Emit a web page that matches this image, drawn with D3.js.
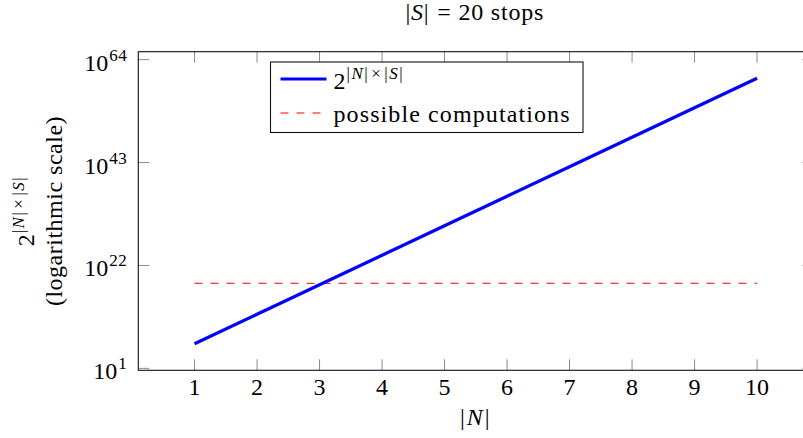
<!DOCTYPE html>
<html>
<head>
<meta charset="utf-8">
<script src="https://cdn.jsdelivr.net/npm/d3@7"></script>
<style>
  body { margin: 0; background: #fff; }
  svg text { fill: #000; }
</style>
</head>
<body>
<script>
// data
var nValues = [1, 2, 3, 4, 5, 6, 7, 8, 9, 10];
// 2^(|N| x 20)
var combos = [1.05e6, 1.10e12, 1.15e18, 1.21e24, 1.27e30, 1.33e36, 1.39e42, 1.46e48, 1.53e54, 1.61e60];
var possibleN = [1, 10];
var possible = [2.3e18, 2.3e18];
var yTickExp = [1, 22, 43, 64];

var W = 803, H = 438;
var margin = {left: 138.3, top: 51.7, right: -10.3, bottom: 67.7},
    width = W - margin.left - margin.right,
    height = H - margin.top - margin.bottom;

var FS = 24, SUP = 17;

var svg = d3.select("body").append("svg")
    .attr("width", W)
    .attr("height", H)
    .style("font-family", "'Liberation Serif', 'DejaVu Serif', serif");

var g = svg.append("g")
    .attr("transform", "translate(" + margin.left + "," + margin.top + ")");

// pgfplots style 10% enlargement of limits
var xr = d3.extent(nValues), xe = (xr[1] - xr[0]) * 0.1;
var x = d3.scaleLinear()
    .domain([xr[0] - xe, xr[1] + xe])
    .range([0, width]);

var ly = d3.extent(combos.concat(possible)).map(Math.log10),
    ye = (ly[1] - ly[0]) * 0.1;
var y = d3.scaleLog()
    .domain([Math.pow(10, ly[0] - ye), Math.pow(10, ly[1] + ye)])
    .range([height, 0]);

var tickLen = 11;

// ticks (inner, on all four sides)
var tickG = g.append("g").attr("stroke", "#8a8a8a").attr("stroke-width", 1);
nValues.forEach(function(d) {
    tickG.append("line").attr("x1", x(d)).attr("x2", x(d)).attr("y1", height).attr("y2", height - tickLen);
    tickG.append("line").attr("x1", x(d)).attr("x2", x(d)).attr("y1", 0).attr("y2", tickLen);
});
yTickExp.forEach(function(e) {
    var yy = y(Math.pow(10, e));
    tickG.append("line").attr("x1", 0).attr("x2", tickLen).attr("y1", yy).attr("y2", yy);
    tickG.append("line").attr("x1", width).attr("x2", width - tickLen).attr("y1", yy).attr("y2", yy);
});

// frame
g.append("rect")
    .attr("width", width)
    .attr("height", height)
    .attr("fill", "none")
    .attr("stroke", "#111")
    .attr("stroke-width", 1.1);

// x tick labels
g.selectAll(".xl")
    .data(nValues)
    .enter().append("text")
    .attr("class", "xl")
    .attr("x", function(d) { return x(d); })
    .attr("y", height + 25)
    .attr("text-anchor", "middle")
    .attr("font-size", FS)
    .text(function(d) { return d; });

// y tick labels: 10^e
var yl = g.selectAll(".yl")
    .data(yTickExp)
    .enter().append("text")
    .attr("class", "yl")
    .attr("x", -11)
    .attr("y", function(e) { return y(Math.pow(10, e)) + 11; })
    .attr("text-anchor", "end")
    .attr("font-size", FS);
yl.append("tspan").text("10");
yl.append("tspan").attr("dy", -10).attr("dx", 1).attr("font-size", SUP)
    .attr("letter-spacing", 0.5)
    .text(function(e) { return e; });

// lines
var line = d3.line()
    .x(function(d) { return x(d[0]); })
    .y(function(d) { return y(d[1]); });

g.append("path")
    .datum(possibleN.map(function(n, i) { return [n, possible[i]]; }))
    .attr("d", line)
    .attr("fill", "none")
    .attr("stroke", "#ff0000")
    .attr("stroke-width", 1)
    .attr("stroke-dasharray", "8,8");

g.append("path")
    .datum(nValues.map(function(n, i) { return [n, combos[i]]; }))
    .attr("d", line)
    .attr("fill", "none")
    .attr("stroke", "#0000ff")
    .attr("stroke-width", 3.2);

// helper for math-like text: [string, italic, dx]
function mathText(sel, parts) {
    parts.forEach(function(p) {
        var t = sel.append("tspan").text(p[0]);
        if (p[1]) t.attr("font-style", "italic");
        if (p[2]) t.attr("dx", p[2]);
    });
}
// 2^{|N|x|S|}
function powerLabel(sel) {
    sel.append("tspan").text("2");
    var s = sel.append("tspan").attr("dy", -10).attr("dx", 1)
        .attr("font-size", SUP).attr("letter-spacing", 1.5);
    mathText(s, [["|"], ["N", 1], ["|"], ["×", 0, 2], ["|", 0, 2], ["S", 1], ["|"]]);
}

// legend
var leg = svg.append("g").attr("transform", "translate(270.5,62)");
leg.append("rect")
    .attr("width", 312.5)
    .attr("height", 70.5)
    .attr("fill", "#fff")
    .attr("stroke", "#111")
    .attr("stroke-width", 1.1);
leg.append("line")
    .attr("x1", 10).attr("x2", 56).attr("y1", 17).attr("y2", 17)
    .attr("stroke", "#0000ff").attr("stroke-width", 3.2);
leg.append("line")
    .attr("x1", 10).attr("x2", 56).attr("y1", 51).attr("y2", 51)
    .attr("stroke", "#ff0000").attr("stroke-width", 1)
    .attr("stroke-dasharray", "8,8");
var l1 = leg.append("text").attr("x", 63).attr("y", 27).attr("font-size", FS);
powerLabel(l1);
leg.append("text").attr("x", 63).attr("y", 59.5).attr("font-size", FS)
    .attr("letter-spacing", 1.1)
    .text("possible computations");

// title
var title = svg.append("text")
    .attr("x", margin.left + width / 2 - 1)
    .attr("y", 20)
    .attr("text-anchor", "middle")
    .attr("font-size", FS)
    .attr("letter-spacing", 0.8)
    .attr("xml:space", "preserve")
    .style("white-space", "pre");
mathText(title, [["|"], ["S", 1], ["| "], ["= ", 0, 1], ["20 stops"]]);

// x axis label
var xlab = svg.append("text")
    .attr("x", margin.left + width / 2)
    .attr("y", 425)
    .attr("text-anchor", "middle")
    .attr("font-size", FS)
    .attr("letter-spacing", 2);
mathText(xlab, [["|"], ["N", 1], ["|"]]);

// y axis label, two lines
var cy = margin.top + height / 2;
var yl1 = svg.append("text")
    .attr("transform", "translate(34," + cy + ") rotate(-90)")
    .attr("text-anchor", "middle")
    .attr("font-size", FS);
powerLabel(yl1);
svg.append("text")
    .attr("transform", "translate(62," + cy + ") rotate(-90)")
    .attr("text-anchor", "middle")
    .attr("font-size", FS)
    .attr("letter-spacing", 0.5)
    .text("(logarithmic scale)");
</script>
</body>
</html>
